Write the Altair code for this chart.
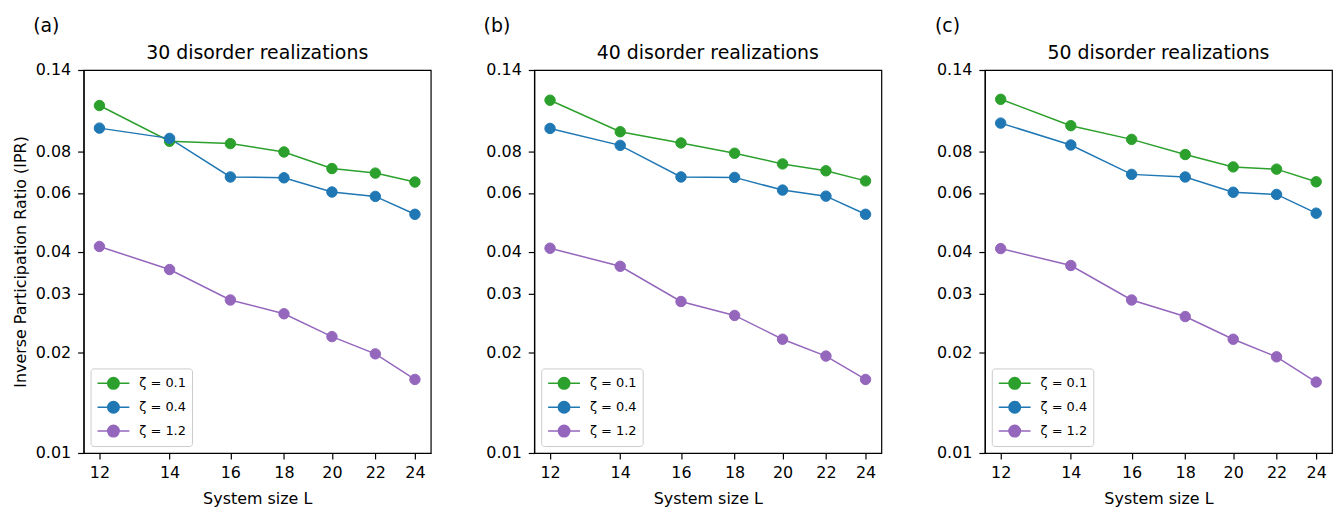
import altair as alt
import pandas as pd

FONT = "DejaVu Sans"

L_values = [12, 14, 16, 18, 20, 22, 24]
y_ticks = [0.01, 0.02, 0.03, 0.04, 0.06, 0.08, 0.14]
zeta_labels = ["ζ = 0.1", "ζ = 0.4", "ζ = 1.2"]
colors = ["#2ca02c", "#1f77b4", "#9467bd"]
panel_tags = ["(a)", "(b)", "(c)"]
panel_titles = ["30 disorder realizations", "40 disorder realizations", "50 disorder realizations"]

ipr_30_z01 = [0.1096, 0.0857, 0.0843, 0.0796, 0.0710, 0.0688, 0.0647]
ipr_30_z04 = [0.0938, 0.0874, 0.0670, 0.0666, 0.0604, 0.0586, 0.0518]
ipr_30_z12 = [0.0415, 0.0354, 0.0287, 0.0261, 0.0223, 0.0198, 0.0166]

ipr_40_z01 = [0.1137, 0.0915, 0.0847, 0.0789, 0.0733, 0.0699, 0.0652]
ipr_40_z04 = [0.0936, 0.0833, 0.0670, 0.0668, 0.0612, 0.0587, 0.0518]
ipr_40_z12 = [0.0410, 0.0362, 0.0284, 0.0258, 0.0219, 0.0195, 0.0166]

ipr_50_z01 = [0.1144, 0.0954, 0.0868, 0.0782, 0.0718, 0.0707, 0.0648]
ipr_50_z04 = [0.0971, 0.0835, 0.0682, 0.0670, 0.0603, 0.0594, 0.0522]
ipr_50_z12 = [0.0409, 0.0364, 0.0287, 0.0256, 0.0219, 0.0194, 0.0163]

all_series = [
    [ipr_30_z01, ipr_30_z04, ipr_30_z12],
    [ipr_40_z01, ipr_40_z04, ipr_40_z12],
    [ipr_50_z01, ipr_50_z04, ipr_50_z12],
]

x_domain = [11.59, 24.85]
y_domain = [0.01, 0.14]

# legend symbol: short line with a circle on it
LEG_PATH = ("M-1,0L3,0M0.28,0A0.72,0.72 0 1,0 1.72,0A0.72,0.72 0 1,0 0.28,0Z")

W, H = 349, 385


def make_panel(i):
    rows = []
    for lab, vals in zip(zeta_labels, all_series[i]):
        for L, v in zip(L_values, vals):
            rows.append({"L": L, "IPR": v, "zeta": lab})
    df = pd.DataFrame(rows)

    x = alt.X("L:Q",
              scale=alt.Scale(type="log", domain=x_domain, nice=False),
              axis=alt.Axis(values=L_values, format="d", title="System size L"))
    yaxis = alt.Axis(values=y_ticks, format=".2f",
                     title="Inverse Participation Ratio (IPR)" if i == 0 else None)
    y = alt.Y("IPR:Q", scale=alt.Scale(type="log", domain=y_domain, nice=False), axis=yaxis)

    cscale = alt.Scale(domain=zeta_labels, range=colors)
    legend = alt.Legend(title=None, orient="bottom-left", offset=7,
                        symbolType=LEG_PATH, symbolSize=256, symbolStrokeWidth=1.5,
                        symbolOpacity=1, labelOffset=25, padding=6, rowPadding=6,
                        strokeColor="#cccccc", fillColor="rgba(255,255,255,0.8)",
                        cornerRadius=3, labelFontSize=13, labelFont=FONT,
                        labelColor="black")
    base = alt.Chart(df)
    line = base.mark_line(strokeWidth=1.5).encode(
        x=x, y=y,
        color=alt.Color("zeta:N", scale=cscale, legend=legend),
    )
    pts = base.mark_point(filled=True, size=110, opacity=1, strokeWidth=1).encode(
        x=x, y=y,
        fill=alt.Fill("zeta:N", scale=cscale, legend=legend),
        stroke=alt.Stroke("zeta:N", scale=cscale, legend=legend),
    )
    tag = alt.Chart(pd.DataFrame({"tag": [panel_tags[i]]})).mark_text(
        fontSize=19, font=FONT, align="center", baseline="middle", color="black"
    ).encode(x=alt.value(-37.5), y=alt.value(-44.5), text="tag:N")
    ttl = alt.Chart(pd.DataFrame({"ttl": [panel_titles[i]]})).mark_text(
        fontSize=19, font=FONT, align="center", baseline="alphabetic", color="black"
    ).encode(x=alt.value(W / 2), y=alt.value(-11), text="ttl:N")

    return alt.layer(line, pts, tag, ttl).properties(width=W, height=H)


chart = alt.hconcat(*[make_panel(i) for i in range(3)], spacing=104, bounds="flush").resolve_scale(
    color="independent", fill="independent", stroke="independent"
).resolve_legend(
    fill="independent", stroke="independent", color="independent"
).properties(
    padding={"left": 3, "top": 6, "right": 2, "bottom": 3}
).configure(
    font=FONT, background="white"
).configure_view(
    stroke="black", strokeWidth=1.2
).configure_axis(
    grid=False, domainColor="black", domainWidth=1.2, tickColor="black",
    tickWidth=1.2, tickSize=6, labelColor="black", labelFont=FONT,
    labelFontSize=16, titleFont=FONT, titleFontSize=16, titleFontWeight="normal",
    titleColor="black"
).configure_axisY(labelPadding=7, titlePadding=7).configure_axisX(labelPadding=6, titlePadding=10)

chart.save("out.html", embed_options={"renderer": "svg", "actions": False})
